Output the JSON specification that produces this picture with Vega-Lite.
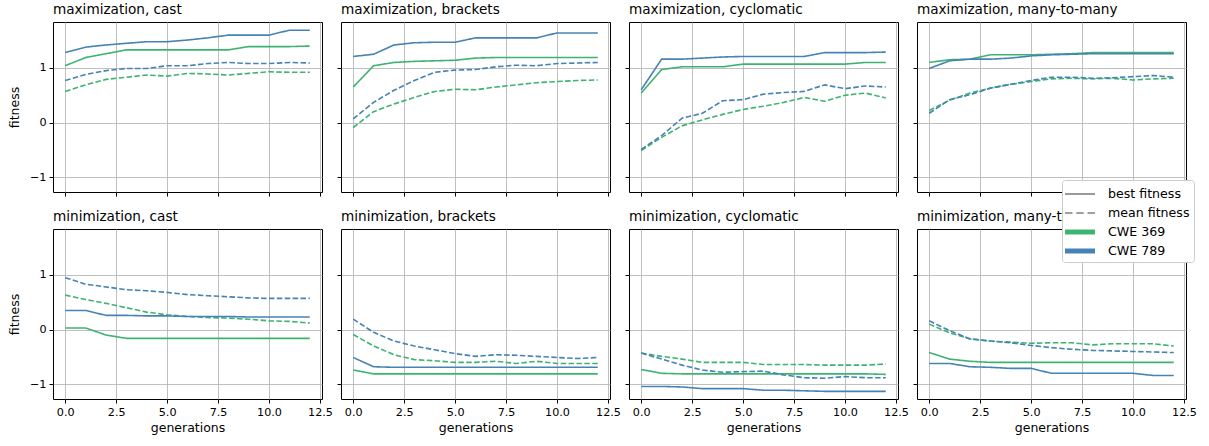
{
"$schema": "https://vega.github.io/schema/vega-lite/v6.json",
"padding": {"left": 8, "top": 2, "right": 5, "bottom": 5},
"data": {"values": [
{"p":1,"c":"CWE 369","t":"b","g":0,"v":1.04},{"p":1,"c":"CWE 369","t":"b","g":1,"v":1.19},{"p":1,"c":"CWE 369","t":"b","g":2,"v":1.26},{"p":1,"c":"CWE 369","t":"b","g":3,"v":1.33},{"p":1,"c":"CWE 369","t":"b","g":4,"v":1.33},{"p":1,"c":"CWE 369","t":"b","g":5,"v":1.33},{"p":1,"c":"CWE 369","t":"b","g":6,"v":1.33},{"p":1,"c":"CWE 369","t":"b","g":7,"v":1.33},{"p":1,"c":"CWE 369","t":"b","g":8,"v":1.33},{"p":1,"c":"CWE 369","t":"b","g":9,"v":1.39},{"p":1,"c":"CWE 369","t":"b","g":10,"v":1.39},{"p":1,"c":"CWE 369","t":"b","g":11,"v":1.39},{"p":1,"c":"CWE 369","t":"b","g":12,"v":1.40},
{"p":1,"c":"CWE 369","t":"m","g":0,"v":0.57},{"p":1,"c":"CWE 369","t":"m","g":1,"v":0.69},{"p":1,"c":"CWE 369","t":"m","g":2,"v":0.79},{"p":1,"c":"CWE 369","t":"m","g":3,"v":0.83},{"p":1,"c":"CWE 369","t":"m","g":4,"v":0.87},{"p":1,"c":"CWE 369","t":"m","g":5,"v":0.85},{"p":1,"c":"CWE 369","t":"m","g":6,"v":0.90},{"p":1,"c":"CWE 369","t":"m","g":7,"v":0.89},{"p":1,"c":"CWE 369","t":"m","g":8,"v":0.87},{"p":1,"c":"CWE 369","t":"m","g":9,"v":0.90},{"p":1,"c":"CWE 369","t":"m","g":10,"v":0.93},{"p":1,"c":"CWE 369","t":"m","g":11,"v":0.92},{"p":1,"c":"CWE 369","t":"m","g":12,"v":0.92},
{"p":1,"c":"CWE 789","t":"b","g":0,"v":1.28},{"p":1,"c":"CWE 789","t":"b","g":1,"v":1.38},{"p":1,"c":"CWE 789","t":"b","g":2,"v":1.42},{"p":1,"c":"CWE 789","t":"b","g":3,"v":1.45},{"p":1,"c":"CWE 789","t":"b","g":4,"v":1.48},{"p":1,"c":"CWE 789","t":"b","g":5,"v":1.48},{"p":1,"c":"CWE 789","t":"b","g":6,"v":1.51},{"p":1,"c":"CWE 789","t":"b","g":7,"v":1.55},{"p":1,"c":"CWE 789","t":"b","g":8,"v":1.60},{"p":1,"c":"CWE 789","t":"b","g":9,"v":1.60},{"p":1,"c":"CWE 789","t":"b","g":10,"v":1.60},{"p":1,"c":"CWE 789","t":"b","g":11,"v":1.69},{"p":1,"c":"CWE 789","t":"b","g":12,"v":1.69},
{"p":1,"c":"CWE 789","t":"m","g":0,"v":0.77},{"p":1,"c":"CWE 789","t":"m","g":1,"v":0.88},{"p":1,"c":"CWE 789","t":"m","g":2,"v":0.95},{"p":1,"c":"CWE 789","t":"m","g":3,"v":0.99},{"p":1,"c":"CWE 789","t":"m","g":4,"v":0.99},{"p":1,"c":"CWE 789","t":"m","g":5,"v":1.04},{"p":1,"c":"CWE 789","t":"m","g":6,"v":1.04},{"p":1,"c":"CWE 789","t":"m","g":7,"v":1.08},{"p":1,"c":"CWE 789","t":"m","g":8,"v":1.10},{"p":1,"c":"CWE 789","t":"m","g":9,"v":1.08},{"p":1,"c":"CWE 789","t":"m","g":10,"v":1.08},{"p":1,"c":"CWE 789","t":"m","g":11,"v":1.10},{"p":1,"c":"CWE 789","t":"m","g":12,"v":1.09},
{"p":2,"c":"CWE 369","t":"b","g":0,"v":0.65},{"p":2,"c":"CWE 369","t":"b","g":1,"v":1.04},{"p":2,"c":"CWE 369","t":"b","g":2,"v":1.10},{"p":2,"c":"CWE 369","t":"b","g":3,"v":1.12},{"p":2,"c":"CWE 369","t":"b","g":4,"v":1.13},{"p":2,"c":"CWE 369","t":"b","g":5,"v":1.14},{"p":2,"c":"CWE 369","t":"b","g":6,"v":1.18},{"p":2,"c":"CWE 369","t":"b","g":7,"v":1.19},{"p":2,"c":"CWE 369","t":"b","g":8,"v":1.19},{"p":2,"c":"CWE 369","t":"b","g":9,"v":1.19},{"p":2,"c":"CWE 369","t":"b","g":10,"v":1.19},{"p":2,"c":"CWE 369","t":"b","g":11,"v":1.19},{"p":2,"c":"CWE 369","t":"b","g":12,"v":1.19},
{"p":2,"c":"CWE 369","t":"m","g":0,"v":-0.09},{"p":2,"c":"CWE 369","t":"m","g":1,"v":0.20},{"p":2,"c":"CWE 369","t":"m","g":2,"v":0.34},{"p":2,"c":"CWE 369","t":"m","g":3,"v":0.46},{"p":2,"c":"CWE 369","t":"m","g":4,"v":0.57},{"p":2,"c":"CWE 369","t":"m","g":5,"v":0.61},{"p":2,"c":"CWE 369","t":"m","g":6,"v":0.60},{"p":2,"c":"CWE 369","t":"m","g":7,"v":0.65},{"p":2,"c":"CWE 369","t":"m","g":8,"v":0.69},{"p":2,"c":"CWE 369","t":"m","g":9,"v":0.73},{"p":2,"c":"CWE 369","t":"m","g":10,"v":0.75},{"p":2,"c":"CWE 369","t":"m","g":11,"v":0.77},{"p":2,"c":"CWE 369","t":"m","g":12,"v":0.78},
{"p":2,"c":"CWE 789","t":"b","g":0,"v":1.21},{"p":2,"c":"CWE 789","t":"b","g":1,"v":1.25},{"p":2,"c":"CWE 789","t":"b","g":2,"v":1.42},{"p":2,"c":"CWE 789","t":"b","g":3,"v":1.46},{"p":2,"c":"CWE 789","t":"b","g":4,"v":1.47},{"p":2,"c":"CWE 789","t":"b","g":5,"v":1.47},{"p":2,"c":"CWE 789","t":"b","g":6,"v":1.55},{"p":2,"c":"CWE 789","t":"b","g":7,"v":1.55},{"p":2,"c":"CWE 789","t":"b","g":8,"v":1.55},{"p":2,"c":"CWE 789","t":"b","g":9,"v":1.55},{"p":2,"c":"CWE 789","t":"b","g":10,"v":1.64},{"p":2,"c":"CWE 789","t":"b","g":11,"v":1.64},{"p":2,"c":"CWE 789","t":"b","g":12,"v":1.64},
{"p":2,"c":"CWE 789","t":"m","g":0,"v":0.07},{"p":2,"c":"CWE 789","t":"m","g":1,"v":0.37},{"p":2,"c":"CWE 789","t":"m","g":2,"v":0.59},{"p":2,"c":"CWE 789","t":"m","g":3,"v":0.77},{"p":2,"c":"CWE 789","t":"m","g":4,"v":0.92},{"p":2,"c":"CWE 789","t":"m","g":5,"v":0.96},{"p":2,"c":"CWE 789","t":"m","g":6,"v":0.97},{"p":2,"c":"CWE 789","t":"m","g":7,"v":1.02},{"p":2,"c":"CWE 789","t":"m","g":8,"v":1.05},{"p":2,"c":"CWE 789","t":"m","g":9,"v":1.04},{"p":2,"c":"CWE 789","t":"m","g":10,"v":1.08},{"p":2,"c":"CWE 789","t":"m","g":11,"v":1.09},{"p":2,"c":"CWE 789","t":"m","g":12,"v":1.10},
{"p":3,"c":"CWE 369","t":"b","g":0,"v":0.54},{"p":3,"c":"CWE 369","t":"b","g":1,"v":0.97},{"p":3,"c":"CWE 369","t":"b","g":2,"v":1.02},{"p":3,"c":"CWE 369","t":"b","g":3,"v":1.02},{"p":3,"c":"CWE 369","t":"b","g":4,"v":1.02},{"p":3,"c":"CWE 369","t":"b","g":5,"v":1.07},{"p":3,"c":"CWE 369","t":"b","g":6,"v":1.07},{"p":3,"c":"CWE 369","t":"b","g":7,"v":1.07},{"p":3,"c":"CWE 369","t":"b","g":8,"v":1.07},{"p":3,"c":"CWE 369","t":"b","g":9,"v":1.07},{"p":3,"c":"CWE 369","t":"b","g":10,"v":1.07},{"p":3,"c":"CWE 369","t":"b","g":11,"v":1.10},{"p":3,"c":"CWE 369","t":"b","g":12,"v":1.10},
{"p":3,"c":"CWE 369","t":"m","g":0,"v":-0.51},{"p":3,"c":"CWE 369","t":"m","g":1,"v":-0.27},{"p":3,"c":"CWE 369","t":"m","g":2,"v":-0.06},{"p":3,"c":"CWE 369","t":"m","g":3,"v":0.05},{"p":3,"c":"CWE 369","t":"m","g":4,"v":0.15},{"p":3,"c":"CWE 369","t":"m","g":5,"v":0.24},{"p":3,"c":"CWE 369","t":"m","g":6,"v":0.30},{"p":3,"c":"CWE 369","t":"m","g":7,"v":0.37},{"p":3,"c":"CWE 369","t":"m","g":8,"v":0.46},{"p":3,"c":"CWE 369","t":"m","g":9,"v":0.39},{"p":3,"c":"CWE 369","t":"m","g":10,"v":0.50},{"p":3,"c":"CWE 369","t":"m","g":11,"v":0.54},{"p":3,"c":"CWE 369","t":"m","g":12,"v":0.45},
{"p":3,"c":"CWE 789","t":"b","g":0,"v":0.60},{"p":3,"c":"CWE 789","t":"b","g":1,"v":1.16},{"p":3,"c":"CWE 789","t":"b","g":2,"v":1.16},{"p":3,"c":"CWE 789","t":"b","g":3,"v":1.18},{"p":3,"c":"CWE 789","t":"b","g":4,"v":1.20},{"p":3,"c":"CWE 789","t":"b","g":5,"v":1.21},{"p":3,"c":"CWE 789","t":"b","g":6,"v":1.21},{"p":3,"c":"CWE 789","t":"b","g":7,"v":1.21},{"p":3,"c":"CWE 789","t":"b","g":8,"v":1.21},{"p":3,"c":"CWE 789","t":"b","g":9,"v":1.28},{"p":3,"c":"CWE 789","t":"b","g":10,"v":1.28},{"p":3,"c":"CWE 789","t":"b","g":11,"v":1.28},{"p":3,"c":"CWE 789","t":"b","g":12,"v":1.29},
{"p":3,"c":"CWE 789","t":"m","g":0,"v":-0.49},{"p":3,"c":"CWE 789","t":"m","g":1,"v":-0.24},{"p":3,"c":"CWE 789","t":"m","g":2,"v":0.08},{"p":3,"c":"CWE 789","t":"m","g":3,"v":0.17},{"p":3,"c":"CWE 789","t":"m","g":4,"v":0.40},{"p":3,"c":"CWE 789","t":"m","g":5,"v":0.42},{"p":3,"c":"CWE 789","t":"m","g":6,"v":0.52},{"p":3,"c":"CWE 789","t":"m","g":7,"v":0.55},{"p":3,"c":"CWE 789","t":"m","g":8,"v":0.57},{"p":3,"c":"CWE 789","t":"m","g":9,"v":0.69},{"p":3,"c":"CWE 789","t":"m","g":10,"v":0.62},{"p":3,"c":"CWE 789","t":"m","g":11,"v":0.67},{"p":3,"c":"CWE 789","t":"m","g":12,"v":0.65},
{"p":4,"c":"CWE 369","t":"b","g":0,"v":1.10},{"p":4,"c":"CWE 369","t":"b","g":1,"v":1.15},{"p":4,"c":"CWE 369","t":"b","g":2,"v":1.16},{"p":4,"c":"CWE 369","t":"b","g":3,"v":1.24},{"p":4,"c":"CWE 369","t":"b","g":4,"v":1.24},{"p":4,"c":"CWE 369","t":"b","g":5,"v":1.24},{"p":4,"c":"CWE 369","t":"b","g":6,"v":1.25},{"p":4,"c":"CWE 369","t":"b","g":7,"v":1.26},{"p":4,"c":"CWE 369","t":"b","g":8,"v":1.28},{"p":4,"c":"CWE 369","t":"b","g":9,"v":1.28},{"p":4,"c":"CWE 369","t":"b","g":10,"v":1.28},{"p":4,"c":"CWE 369","t":"b","g":11,"v":1.28},{"p":4,"c":"CWE 369","t":"b","g":12,"v":1.28},
{"p":4,"c":"CWE 369","t":"m","g":0,"v":0.22},{"p":4,"c":"CWE 369","t":"m","g":1,"v":0.41},{"p":4,"c":"CWE 369","t":"m","g":2,"v":0.54},{"p":4,"c":"CWE 369","t":"m","g":3,"v":0.63},{"p":4,"c":"CWE 369","t":"m","g":4,"v":0.70},{"p":4,"c":"CWE 369","t":"m","g":5,"v":0.75},{"p":4,"c":"CWE 369","t":"m","g":6,"v":0.80},{"p":4,"c":"CWE 369","t":"m","g":7,"v":0.81},{"p":4,"c":"CWE 369","t":"m","g":8,"v":0.80},{"p":4,"c":"CWE 369","t":"m","g":9,"v":0.81},{"p":4,"c":"CWE 369","t":"m","g":10,"v":0.78},{"p":4,"c":"CWE 369","t":"m","g":11,"v":0.80},{"p":4,"c":"CWE 369","t":"m","g":12,"v":0.81},
{"p":4,"c":"CWE 789","t":"b","g":0,"v":0.99},{"p":4,"c":"CWE 789","t":"b","g":1,"v":1.13},{"p":4,"c":"CWE 789","t":"b","g":2,"v":1.16},{"p":4,"c":"CWE 789","t":"b","g":3,"v":1.16},{"p":4,"c":"CWE 789","t":"b","g":4,"v":1.18},{"p":4,"c":"CWE 789","t":"b","g":5,"v":1.22},{"p":4,"c":"CWE 789","t":"b","g":6,"v":1.24},{"p":4,"c":"CWE 789","t":"b","g":7,"v":1.25},{"p":4,"c":"CWE 789","t":"b","g":8,"v":1.26},{"p":4,"c":"CWE 789","t":"b","g":9,"v":1.26},{"p":4,"c":"CWE 789","t":"b","g":10,"v":1.26},{"p":4,"c":"CWE 789","t":"b","g":11,"v":1.26},{"p":4,"c":"CWE 789","t":"b","g":12,"v":1.26},
{"p":4,"c":"CWE 789","t":"m","g":0,"v":0.17},{"p":4,"c":"CWE 789","t":"m","g":1,"v":0.42},{"p":4,"c":"CWE 789","t":"m","g":2,"v":0.51},{"p":4,"c":"CWE 789","t":"m","g":3,"v":0.63},{"p":4,"c":"CWE 789","t":"m","g":4,"v":0.70},{"p":4,"c":"CWE 789","t":"m","g":5,"v":0.77},{"p":4,"c":"CWE 789","t":"m","g":6,"v":0.83},{"p":4,"c":"CWE 789","t":"m","g":7,"v":0.83},{"p":4,"c":"CWE 789","t":"m","g":8,"v":0.81},{"p":4,"c":"CWE 789","t":"m","g":9,"v":0.82},{"p":4,"c":"CWE 789","t":"m","g":10,"v":0.84},{"p":4,"c":"CWE 789","t":"m","g":11,"v":0.86},{"p":4,"c":"CWE 789","t":"m","g":12,"v":0.83},
{"p":5,"c":"CWE 369","t":"b","g":0,"v":0.03},{"p":5,"c":"CWE 369","t":"b","g":1,"v":0.03},{"p":5,"c":"CWE 369","t":"b","g":2,"v":-0.10},{"p":5,"c":"CWE 369","t":"b","g":3,"v":-0.16},{"p":5,"c":"CWE 369","t":"b","g":4,"v":-0.16},{"p":5,"c":"CWE 369","t":"b","g":5,"v":-0.16},{"p":5,"c":"CWE 369","t":"b","g":6,"v":-0.16},{"p":5,"c":"CWE 369","t":"b","g":7,"v":-0.16},{"p":5,"c":"CWE 369","t":"b","g":8,"v":-0.16},{"p":5,"c":"CWE 369","t":"b","g":9,"v":-0.16},{"p":5,"c":"CWE 369","t":"b","g":10,"v":-0.16},{"p":5,"c":"CWE 369","t":"b","g":11,"v":-0.16},{"p":5,"c":"CWE 369","t":"b","g":12,"v":-0.16},
{"p":5,"c":"CWE 369","t":"m","g":0,"v":0.63},{"p":5,"c":"CWE 369","t":"m","g":1,"v":0.55},{"p":5,"c":"CWE 369","t":"m","g":2,"v":0.48},{"p":5,"c":"CWE 369","t":"m","g":3,"v":0.40},{"p":5,"c":"CWE 369","t":"m","g":4,"v":0.32},{"p":5,"c":"CWE 369","t":"m","g":5,"v":0.27},{"p":5,"c":"CWE 369","t":"m","g":6,"v":0.24},{"p":5,"c":"CWE 369","t":"m","g":7,"v":0.22},{"p":5,"c":"CWE 369","t":"m","g":8,"v":0.21},{"p":5,"c":"CWE 369","t":"m","g":9,"v":0.19},{"p":5,"c":"CWE 369","t":"m","g":10,"v":0.16},{"p":5,"c":"CWE 369","t":"m","g":11,"v":0.15},{"p":5,"c":"CWE 369","t":"m","g":12,"v":0.12},
{"p":5,"c":"CWE 789","t":"b","g":0,"v":0.35},{"p":5,"c":"CWE 789","t":"b","g":1,"v":0.35},{"p":5,"c":"CWE 789","t":"b","g":2,"v":0.26},{"p":5,"c":"CWE 789","t":"b","g":3,"v":0.26},{"p":5,"c":"CWE 789","t":"b","g":4,"v":0.25},{"p":5,"c":"CWE 789","t":"b","g":5,"v":0.25},{"p":5,"c":"CWE 789","t":"b","g":6,"v":0.24},{"p":5,"c":"CWE 789","t":"b","g":7,"v":0.24},{"p":5,"c":"CWE 789","t":"b","g":8,"v":0.24},{"p":5,"c":"CWE 789","t":"b","g":9,"v":0.23},{"p":5,"c":"CWE 789","t":"b","g":10,"v":0.23},{"p":5,"c":"CWE 789","t":"b","g":11,"v":0.23},{"p":5,"c":"CWE 789","t":"b","g":12,"v":0.23},
{"p":5,"c":"CWE 789","t":"m","g":0,"v":0.95},{"p":5,"c":"CWE 789","t":"m","g":1,"v":0.83},{"p":5,"c":"CWE 789","t":"m","g":2,"v":0.78},{"p":5,"c":"CWE 789","t":"m","g":3,"v":0.73},{"p":5,"c":"CWE 789","t":"m","g":4,"v":0.71},{"p":5,"c":"CWE 789","t":"m","g":5,"v":0.68},{"p":5,"c":"CWE 789","t":"m","g":6,"v":0.64},{"p":5,"c":"CWE 789","t":"m","g":7,"v":0.62},{"p":5,"c":"CWE 789","t":"m","g":8,"v":0.60},{"p":5,"c":"CWE 789","t":"m","g":9,"v":0.58},{"p":5,"c":"CWE 789","t":"m","g":10,"v":0.57},{"p":5,"c":"CWE 789","t":"m","g":11,"v":0.57},{"p":5,"c":"CWE 789","t":"m","g":12,"v":0.57},
{"p":6,"c":"CWE 369","t":"b","g":0,"v":-0.74},{"p":6,"c":"CWE 369","t":"b","g":1,"v":-0.81},{"p":6,"c":"CWE 369","t":"b","g":2,"v":-0.81},{"p":6,"c":"CWE 369","t":"b","g":3,"v":-0.81},{"p":6,"c":"CWE 369","t":"b","g":4,"v":-0.81},{"p":6,"c":"CWE 369","t":"b","g":5,"v":-0.81},{"p":6,"c":"CWE 369","t":"b","g":6,"v":-0.81},{"p":6,"c":"CWE 369","t":"b","g":7,"v":-0.81},{"p":6,"c":"CWE 369","t":"b","g":8,"v":-0.81},{"p":6,"c":"CWE 369","t":"b","g":9,"v":-0.81},{"p":6,"c":"CWE 369","t":"b","g":10,"v":-0.81},{"p":6,"c":"CWE 369","t":"b","g":11,"v":-0.81},{"p":6,"c":"CWE 369","t":"b","g":12,"v":-0.81},
{"p":6,"c":"CWE 369","t":"m","g":0,"v":-0.09},{"p":6,"c":"CWE 369","t":"m","g":1,"v":-0.30},{"p":6,"c":"CWE 369","t":"m","g":2,"v":-0.46},{"p":6,"c":"CWE 369","t":"m","g":3,"v":-0.55},{"p":6,"c":"CWE 369","t":"m","g":4,"v":-0.57},{"p":6,"c":"CWE 369","t":"m","g":5,"v":-0.60},{"p":6,"c":"CWE 369","t":"m","g":6,"v":-0.60},{"p":6,"c":"CWE 369","t":"m","g":7,"v":-0.58},{"p":6,"c":"CWE 369","t":"m","g":8,"v":-0.62},{"p":6,"c":"CWE 369","t":"m","g":9,"v":-0.58},{"p":6,"c":"CWE 369","t":"m","g":10,"v":-0.62},{"p":6,"c":"CWE 369","t":"m","g":11,"v":-0.62},{"p":6,"c":"CWE 369","t":"m","g":12,"v":-0.62},
{"p":6,"c":"CWE 789","t":"b","g":0,"v":-0.51},{"p":6,"c":"CWE 789","t":"b","g":1,"v":-0.68},{"p":6,"c":"CWE 789","t":"b","g":2,"v":-0.69},{"p":6,"c":"CWE 789","t":"b","g":3,"v":-0.69},{"p":6,"c":"CWE 789","t":"b","g":4,"v":-0.69},{"p":6,"c":"CWE 789","t":"b","g":5,"v":-0.69},{"p":6,"c":"CWE 789","t":"b","g":6,"v":-0.69},{"p":6,"c":"CWE 789","t":"b","g":7,"v":-0.69},{"p":6,"c":"CWE 789","t":"b","g":8,"v":-0.69},{"p":6,"c":"CWE 789","t":"b","g":9,"v":-0.69},{"p":6,"c":"CWE 789","t":"b","g":10,"v":-0.69},{"p":6,"c":"CWE 789","t":"b","g":11,"v":-0.69},{"p":6,"c":"CWE 789","t":"b","g":12,"v":-0.69},
{"p":6,"c":"CWE 789","t":"m","g":0,"v":0.19},{"p":6,"c":"CWE 789","t":"m","g":1,"v":-0.05},{"p":6,"c":"CWE 789","t":"m","g":2,"v":-0.21},{"p":6,"c":"CWE 789","t":"m","g":3,"v":-0.30},{"p":6,"c":"CWE 789","t":"m","g":4,"v":-0.37},{"p":6,"c":"CWE 789","t":"m","g":5,"v":-0.44},{"p":6,"c":"CWE 789","t":"m","g":6,"v":-0.49},{"p":6,"c":"CWE 789","t":"m","g":7,"v":-0.46},{"p":6,"c":"CWE 789","t":"m","g":8,"v":-0.47},{"p":6,"c":"CWE 789","t":"m","g":9,"v":-0.49},{"p":6,"c":"CWE 789","t":"m","g":10,"v":-0.51},{"p":6,"c":"CWE 789","t":"m","g":11,"v":-0.53},{"p":6,"c":"CWE 789","t":"m","g":12,"v":-0.51},
{"p":7,"c":"CWE 369","t":"b","g":0,"v":-0.73},{"p":7,"c":"CWE 369","t":"b","g":1,"v":-0.80},{"p":7,"c":"CWE 369","t":"b","g":2,"v":-0.81},{"p":7,"c":"CWE 369","t":"b","g":3,"v":-0.81},{"p":7,"c":"CWE 369","t":"b","g":4,"v":-0.81},{"p":7,"c":"CWE 369","t":"b","g":5,"v":-0.81},{"p":7,"c":"CWE 369","t":"b","g":6,"v":-0.81},{"p":7,"c":"CWE 369","t":"b","g":7,"v":-0.81},{"p":7,"c":"CWE 369","t":"b","g":8,"v":-0.81},{"p":7,"c":"CWE 369","t":"b","g":9,"v":-0.81},{"p":7,"c":"CWE 369","t":"b","g":10,"v":-0.81},{"p":7,"c":"CWE 369","t":"b","g":11,"v":-0.81},{"p":7,"c":"CWE 369","t":"b","g":12,"v":-0.82},
{"p":7,"c":"CWE 369","t":"m","g":0,"v":-0.43},{"p":7,"c":"CWE 369","t":"m","g":1,"v":-0.49},{"p":7,"c":"CWE 369","t":"m","g":2,"v":-0.54},{"p":7,"c":"CWE 369","t":"m","g":3,"v":-0.60},{"p":7,"c":"CWE 369","t":"m","g":4,"v":-0.60},{"p":7,"c":"CWE 369","t":"m","g":5,"v":-0.60},{"p":7,"c":"CWE 369","t":"m","g":6,"v":-0.64},{"p":7,"c":"CWE 369","t":"m","g":7,"v":-0.64},{"p":7,"c":"CWE 369","t":"m","g":8,"v":-0.64},{"p":7,"c":"CWE 369","t":"m","g":9,"v":-0.65},{"p":7,"c":"CWE 369","t":"m","g":10,"v":-0.65},{"p":7,"c":"CWE 369","t":"m","g":11,"v":-0.65},{"p":7,"c":"CWE 369","t":"m","g":12,"v":-0.63},
{"p":7,"c":"CWE 789","t":"b","g":0,"v":-1.04},{"p":7,"c":"CWE 789","t":"b","g":1,"v":-1.04},{"p":7,"c":"CWE 789","t":"b","g":2,"v":-1.05},{"p":7,"c":"CWE 789","t":"b","g":3,"v":-1.08},{"p":7,"c":"CWE 789","t":"b","g":4,"v":-1.08},{"p":7,"c":"CWE 789","t":"b","g":5,"v":-1.08},{"p":7,"c":"CWE 789","t":"b","g":6,"v":-1.11},{"p":7,"c":"CWE 789","t":"b","g":7,"v":-1.11},{"p":7,"c":"CWE 789","t":"b","g":8,"v":-1.12},{"p":7,"c":"CWE 789","t":"b","g":9,"v":-1.13},{"p":7,"c":"CWE 789","t":"b","g":10,"v":-1.13},{"p":7,"c":"CWE 789","t":"b","g":11,"v":-1.13},{"p":7,"c":"CWE 789","t":"b","g":12,"v":-1.13},
{"p":7,"c":"CWE 789","t":"m","g":0,"v":-0.43},{"p":7,"c":"CWE 789","t":"m","g":1,"v":-0.54},{"p":7,"c":"CWE 789","t":"m","g":2,"v":-0.65},{"p":7,"c":"CWE 789","t":"m","g":3,"v":-0.74},{"p":7,"c":"CWE 789","t":"m","g":4,"v":-0.78},{"p":7,"c":"CWE 789","t":"m","g":5,"v":-0.77},{"p":7,"c":"CWE 789","t":"m","g":6,"v":-0.76},{"p":7,"c":"CWE 789","t":"m","g":7,"v":-0.83},{"p":7,"c":"CWE 789","t":"m","g":8,"v":-0.88},{"p":7,"c":"CWE 789","t":"m","g":9,"v":-0.89},{"p":7,"c":"CWE 789","t":"m","g":10,"v":-0.86},{"p":7,"c":"CWE 789","t":"m","g":11,"v":-0.88},{"p":7,"c":"CWE 789","t":"m","g":12,"v":-0.88},
{"p":8,"c":"CWE 369","t":"b","g":0,"v":-0.42},{"p":8,"c":"CWE 369","t":"b","g":1,"v":-0.54},{"p":8,"c":"CWE 369","t":"b","g":2,"v":-0.58},{"p":8,"c":"CWE 369","t":"b","g":3,"v":-0.60},{"p":8,"c":"CWE 369","t":"b","g":4,"v":-0.60},{"p":8,"c":"CWE 369","t":"b","g":5,"v":-0.60},{"p":8,"c":"CWE 369","t":"b","g":6,"v":-0.60},{"p":8,"c":"CWE 369","t":"b","g":7,"v":-0.60},{"p":8,"c":"CWE 369","t":"b","g":8,"v":-0.60},{"p":8,"c":"CWE 369","t":"b","g":9,"v":-0.60},{"p":8,"c":"CWE 369","t":"b","g":10,"v":-0.60},{"p":8,"c":"CWE 369","t":"b","g":11,"v":-0.60},{"p":8,"c":"CWE 369","t":"b","g":12,"v":-0.60},
{"p":8,"c":"CWE 369","t":"m","g":0,"v":0.10},{"p":8,"c":"CWE 369","t":"m","g":1,"v":-0.06},{"p":8,"c":"CWE 369","t":"m","g":2,"v":-0.17},{"p":8,"c":"CWE 369","t":"m","g":3,"v":-0.21},{"p":8,"c":"CWE 369","t":"m","g":4,"v":-0.23},{"p":8,"c":"CWE 369","t":"m","g":5,"v":-0.25},{"p":8,"c":"CWE 369","t":"m","g":6,"v":-0.24},{"p":8,"c":"CWE 369","t":"m","g":7,"v":-0.24},{"p":8,"c":"CWE 369","t":"m","g":8,"v":-0.28},{"p":8,"c":"CWE 369","t":"m","g":9,"v":-0.26},{"p":8,"c":"CWE 369","t":"m","g":10,"v":-0.26},{"p":8,"c":"CWE 369","t":"m","g":11,"v":-0.26},{"p":8,"c":"CWE 369","t":"m","g":12,"v":-0.30},
{"p":8,"c":"CWE 789","t":"b","g":0,"v":-0.62},{"p":8,"c":"CWE 789","t":"b","g":1,"v":-0.62},{"p":8,"c":"CWE 789","t":"b","g":2,"v":-0.68},{"p":8,"c":"CWE 789","t":"b","g":3,"v":-0.69},{"p":8,"c":"CWE 789","t":"b","g":4,"v":-0.71},{"p":8,"c":"CWE 789","t":"b","g":5,"v":-0.71},{"p":8,"c":"CWE 789","t":"b","g":6,"v":-0.80},{"p":8,"c":"CWE 789","t":"b","g":7,"v":-0.80},{"p":8,"c":"CWE 789","t":"b","g":8,"v":-0.80},{"p":8,"c":"CWE 789","t":"b","g":9,"v":-0.80},{"p":8,"c":"CWE 789","t":"b","g":10,"v":-0.80},{"p":8,"c":"CWE 789","t":"b","g":11,"v":-0.84},{"p":8,"c":"CWE 789","t":"b","g":12,"v":-0.84},
{"p":8,"c":"CWE 789","t":"m","g":0,"v":0.16},{"p":8,"c":"CWE 789","t":"m","g":1,"v":-0.02},{"p":8,"c":"CWE 789","t":"m","g":2,"v":-0.17},{"p":8,"c":"CWE 789","t":"m","g":3,"v":-0.21},{"p":8,"c":"CWE 789","t":"m","g":4,"v":-0.24},{"p":8,"c":"CWE 789","t":"m","g":5,"v":-0.29},{"p":8,"c":"CWE 789","t":"m","g":6,"v":-0.33},{"p":8,"c":"CWE 789","t":"m","g":7,"v":-0.36},{"p":8,"c":"CWE 789","t":"m","g":8,"v":-0.38},{"p":8,"c":"CWE 789","t":"m","g":9,"v":-0.39},{"p":8,"c":"CWE 789","t":"m","g":10,"v":-0.40},{"p":8,"c":"CWE 789","t":"m","g":11,"v":-0.41},{"p":8,"c":"CWE 789","t":"m","g":12,"v":-0.42}
]},
"columns": 4,
"spacing": {"row": 37, "column": 19},
"bounds": "flush",
"concat": [
{"title": "maximization, cast", "width": 269, "height": 170, "transform": [{"filter": "datum.p==1"}], "mark": {"type": "line", "strokeWidth": 1.6},
 "encoding": {
  "x": {"field": "g", "type": "quantitative", "scale": {"domain": [-0.6, 12.6], "nice": false, "zero": false}, "axis": {"values": [0, 2.5, 5, 7.5, 10, 12.5], "labels": false, "title": null}},
  "y": {"field": "v", "type": "quantitative", "scale": {"domain": [-1.27, 1.84], "nice": false, "zero": false}, "axis": {"values": [-1, 0, 1], "format": "d", "title": "fitness"}},
  "color": {"field": "c", "type": "nominal", "scale": {"domain": ["best fitness", "mean fitness", "CWE 369", "CWE 789"], "range": ["#808080", "#808080", "#3cb371", "#4682b4"]},
   "legend": {"orient": "none", "legendX": 1009, "legendY": 158, "title": null, "symbolSize": 400, "symbolStrokeWidth": 0, "symbolOffset": 4, "rowPadding": 2, "labelFontSize": 12.6, "labelFont": "DejaVu Sans", "labelColor": "black", "labelOffset": 18, "fillColor": "white", "strokeColor": "#cccccc", "cornerRadius": 3, "padding": 4,
    "encode": {"symbols": {"update": {
      "shape": {"signal": "datum.value == 'best fitness' ? 'M-1.5,-0.08H1.5V0.08H-1.5Z' : datum.value == 'mean fitness' ? 'M-1.5,-0.08H-0.75V0.08H-1.5Z M-0.375,-0.08H0.375V0.08H-0.375Z M0.75,-0.08H1.5V0.08H0.75Z' : 'M-1.5,-0.25H1.5V0.25H-1.5Z'"},
      "fill": {"signal": "datum.value == 'CWE 369' ? '#3cb371' : datum.value == 'CWE 789' ? '#4682b4' : '#808080'"},
      "fillOpacity": {"value": 1},
      "opacity": {"value": 1},
      "stroke": {"value": "transparent"},
      "strokeWidth": {"value": 0}}}}}},
  "strokeDash": {"field": "t", "type": "nominal", "scale": {"domain": ["b", "m"], "range": [[1, 0], [5.5, 2.4]]}, "legend": null}}},
{"title": "maximization, brackets", "width": 269, "height": 170, "transform": [{"filter": "datum.p==2"}], "mark": {"type": "line", "strokeWidth": 1.6},
 "encoding": {
  "x": {"field": "g", "type": "quantitative", "scale": {"domain": [-0.6, 12.6], "nice": false, "zero": false}, "axis": {"values": [0, 2.5, 5, 7.5, 10, 12.5], "labels": false, "title": null}},
  "y": {"field": "v", "type": "quantitative", "scale": {"domain": [-1.27, 1.84], "nice": false, "zero": false}, "axis": {"values": [-1, 0, 1], "labels": false, "title": null}},
  "color": {"field": "c", "type": "nominal", "scale": {"domain": ["best fitness", "mean fitness", "CWE 369", "CWE 789"], "range": ["#808080", "#808080", "#3cb371", "#4682b4"]}},
  "strokeDash": {"field": "t", "type": "nominal", "scale": {"domain": ["b", "m"], "range": [[1, 0], [5.5, 2.4]]}, "legend": null}}},
{"title": "maximization, cyclomatic", "width": 269, "height": 170, "transform": [{"filter": "datum.p==3"}], "mark": {"type": "line", "strokeWidth": 1.6},
 "encoding": {
  "x": {"field": "g", "type": "quantitative", "scale": {"domain": [-0.6, 12.6], "nice": false, "zero": false}, "axis": {"values": [0, 2.5, 5, 7.5, 10, 12.5], "labels": false, "title": null}},
  "y": {"field": "v", "type": "quantitative", "scale": {"domain": [-1.27, 1.84], "nice": false, "zero": false}, "axis": {"values": [-1, 0, 1], "labels": false, "title": null}},
  "color": {"field": "c", "type": "nominal", "scale": {"domain": ["best fitness", "mean fitness", "CWE 369", "CWE 789"], "range": ["#808080", "#808080", "#3cb371", "#4682b4"]}},
  "strokeDash": {"field": "t", "type": "nominal", "scale": {"domain": ["b", "m"], "range": [[1, 0], [5.5, 2.4]]}, "legend": null}}},
{"title": "maximization, many-to-many", "width": 269, "height": 170, "transform": [{"filter": "datum.p==4"}], "mark": {"type": "line", "strokeWidth": 1.6},
 "encoding": {
  "x": {"field": "g", "type": "quantitative", "scale": {"domain": [-0.6, 12.6], "nice": false, "zero": false}, "axis": {"values": [0, 2.5, 5, 7.5, 10, 12.5], "labels": false, "title": null}},
  "y": {"field": "v", "type": "quantitative", "scale": {"domain": [-1.27, 1.84], "nice": false, "zero": false}, "axis": {"values": [-1, 0, 1], "labels": false, "title": null}},
  "color": {"field": "c", "type": "nominal", "scale": {"domain": ["best fitness", "mean fitness", "CWE 369", "CWE 789"], "range": ["#808080", "#808080", "#3cb371", "#4682b4"]}},
  "strokeDash": {"field": "t", "type": "nominal", "scale": {"domain": ["b", "m"], "range": [[1, 0], [5.5, 2.4]]}, "legend": null}}},
{"title": "minimization, cast", "width": 269, "height": 170, "transform": [{"filter": "datum.p==5"}], "mark": {"type": "line", "strokeWidth": 1.6},
 "encoding": {
  "x": {"field": "g", "type": "quantitative", "scale": {"domain": [-0.6, 12.6], "nice": false, "zero": false}, "axis": {"values": [0, 2.5, 5, 7.5, 10, 12.5], "format": ".1f", "title": "generations"}},
  "y": {"field": "v", "type": "quantitative", "scale": {"domain": [-1.27, 1.84], "nice": false, "zero": false}, "axis": {"values": [-1, 0, 1], "format": "d", "title": "fitness"}},
  "color": {"field": "c", "type": "nominal", "scale": {"domain": ["best fitness", "mean fitness", "CWE 369", "CWE 789"], "range": ["#808080", "#808080", "#3cb371", "#4682b4"]}},
  "strokeDash": {"field": "t", "type": "nominal", "scale": {"domain": ["b", "m"], "range": [[1, 0], [5.5, 2.4]]}, "legend": null}}},
{"title": "minimization, brackets", "width": 269, "height": 170, "transform": [{"filter": "datum.p==6"}], "mark": {"type": "line", "strokeWidth": 1.6},
 "encoding": {
  "x": {"field": "g", "type": "quantitative", "scale": {"domain": [-0.6, 12.6], "nice": false, "zero": false}, "axis": {"values": [0, 2.5, 5, 7.5, 10, 12.5], "format": ".1f", "title": "generations"}},
  "y": {"field": "v", "type": "quantitative", "scale": {"domain": [-1.27, 1.84], "nice": false, "zero": false}, "axis": {"values": [-1, 0, 1], "labels": false, "title": null}},
  "color": {"field": "c", "type": "nominal", "scale": {"domain": ["best fitness", "mean fitness", "CWE 369", "CWE 789"], "range": ["#808080", "#808080", "#3cb371", "#4682b4"]}},
  "strokeDash": {"field": "t", "type": "nominal", "scale": {"domain": ["b", "m"], "range": [[1, 0], [5.5, 2.4]]}, "legend": null}}},
{"title": "minimization, cyclomatic", "width": 269, "height": 170, "transform": [{"filter": "datum.p==7"}], "mark": {"type": "line", "strokeWidth": 1.6},
 "encoding": {
  "x": {"field": "g", "type": "quantitative", "scale": {"domain": [-0.6, 12.6], "nice": false, "zero": false}, "axis": {"values": [0, 2.5, 5, 7.5, 10, 12.5], "format": ".1f", "title": "generations"}},
  "y": {"field": "v", "type": "quantitative", "scale": {"domain": [-1.27, 1.84], "nice": false, "zero": false}, "axis": {"values": [-1, 0, 1], "labels": false, "title": null}},
  "color": {"field": "c", "type": "nominal", "scale": {"domain": ["best fitness", "mean fitness", "CWE 369", "CWE 789"], "range": ["#808080", "#808080", "#3cb371", "#4682b4"]}},
  "strokeDash": {"field": "t", "type": "nominal", "scale": {"domain": ["b", "m"], "range": [[1, 0], [5.5, 2.4]]}, "legend": null}}},
{"title": "minimization, many-to-many", "width": 269, "height": 170, "transform": [{"filter": "datum.p==8"}], "mark": {"type": "line", "strokeWidth": 1.6},
 "encoding": {
  "x": {"field": "g", "type": "quantitative", "scale": {"domain": [-0.6, 12.6], "nice": false, "zero": false}, "axis": {"values": [0, 2.5, 5, 7.5, 10, 12.5], "format": ".1f", "title": "generations"}},
  "y": {"field": "v", "type": "quantitative", "scale": {"domain": [-1.27, 1.84], "nice": false, "zero": false}, "axis": {"values": [-1, 0, 1], "labels": false, "title": null}},
  "color": {"field": "c", "type": "nominal", "scale": {"domain": ["best fitness", "mean fitness", "CWE 369", "CWE 789"], "range": ["#808080", "#808080", "#3cb371", "#4682b4"]}},
  "strokeDash": {"field": "t", "type": "nominal", "scale": {"domain": ["b", "m"], "range": [[1, 0], [5.5, 2.4]]}, "legend": null}}}
],
"config": {
 "font": "DejaVu Sans",
 "background": "white",
 "view": {"stroke": "black", "strokeWidth": 1},
 "axis": {"domain": false, "grid": true, "gridColor": "#b0b0b0", "gridWidth": 0.8, "ticks": true, "tickColor": "black", "tickSize": 4, "labelFontSize": 11.2, "labelColor": "black", "labelFont": "DejaVu Sans", "labelPadding": 3, "titleFontSize": 12.5, "titleFontWeight": "normal", "titleColor": "black", "titleFont": "DejaVu Sans"},
 "axisX": {"titlePadding": 4, "labelFlush": false},
 "axisY": {"titlePadding": 8},
 "title": {"anchor": "start", "frame": "group", "fontSize": 13.6, "fontWeight": "normal", "color": "black", "font": "DejaVu Sans", "offset": 5}
}
}
